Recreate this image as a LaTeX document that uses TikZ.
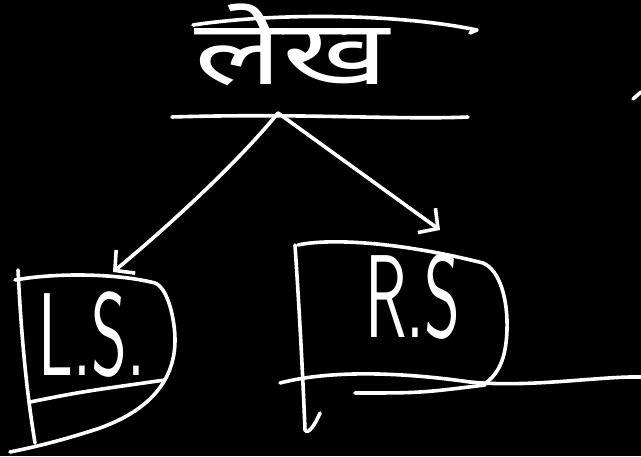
\documentclass[tikz,border=0pt]{standalone}
\usepackage{fontspec}
\newfontfamily\devfont[Script=Devanagari]{Noto Sans}
\usetikzlibrary{arrows.meta}

\begin{document}
\begin{tikzpicture}[x=1pt, y=-1pt,
  chalk/.style={white, line width=3.6pt, line cap=round, line join=round},
  tip/.style={-{Straight Barb[length=14pt, width=30pt, line width=3.6pt]}},
  label/.style={white, inner sep=0pt, anchor=base}]
\fill[black] (0,0) rectangle (641,456);
\useasboundingbox (0,0) rectangle (641,456);
% root
\node[label, font=\devfont\fontsize{90}{90}\selectfont] (root) at (292,84) {\scalebox{1.45}[1]{लेख}};
\draw[chalk] (193,25) .. controls (280,12) and (400,14) .. (477,30) -- (470,33);
\draw[chalk] (172,117) .. controls (300,113) and (400,120) .. (468,117);
\coordinate (apex) at (278,113);
% left subtree
\node[label, font=\sffamily\fontsize{118}{118}\selectfont] (ls) at (92,375) {\scalebox{0.58}[1]{L.S.}};
\draw[chalk] (18,270) .. controls (22,350) and (28,400) .. (35,443);
\draw[chalk] (15,280) .. controls (60,272) and (120,274) .. (155,283)
  .. controls (168,288) and (175,320) .. (175,340)
  .. controls (175,380) and (150,410) .. (100,428)
  .. controls (70,438) and (40,446) .. (10,452);
\draw[chalk] (30,402) .. controls (80,392) .. (165,380);
% right subtree
\node[label, font=\sffamily\fontsize{118}{118}\selectfont] (rs) at (413,337) {\scalebox{0.58}[1]{R.S}};
\draw[chalk] (295,245) .. controls (300,320) and (303,380) .. (305,430)
  .. controls (308,435) and (315,425) .. (320,413);
\draw[chalk] (298,245) .. controls (330,238) and (400,242) .. (483,263)
  .. controls (500,270) and (508,300) .. (507,330)
  .. controls (506,360) and (498,375) .. (483,385);
\draw[chalk] (280,383) .. controls (330,370) and (400,372) .. (470,382)
  .. controls (530,388) and (600,376) .. (641,377);
\draw[chalk] (355,393) .. controls (420,393) .. (485,385);
\draw[chalk] (633,99) -- (641,92);
% edges
\coordinate (lsend) at (113,272);
\coordinate (rsend) at (440,230);
\draw[chalk, tip] (apex) .. controls (240,160) and (170,225) .. (lsend);
\draw[chalk, tip] (apex) -- (rsend);
\end{tikzpicture}
\end{document}
